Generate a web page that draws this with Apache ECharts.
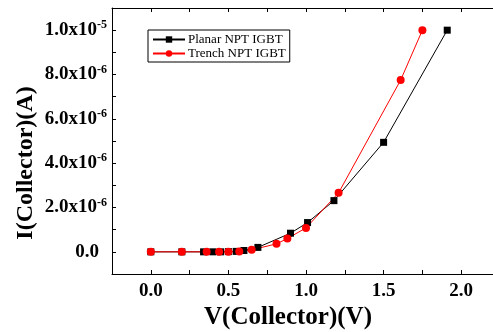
<!DOCTYPE html>
<html>
<head>
<meta charset="utf-8">
<script src="https://cdn.jsdelivr.net/npm/echarts@6/dist/echarts.min.js"></script>
<style>
  html, body { margin: 0; padding: 0; background: #fff; overflow: hidden; }
  #chart { width: 493px; height: 332px; }
</style>
</head>
<body>
<div id="chart"></div>
<script>
// data
const vPlanar = [0, 0.2, 0.34, 0.4, 0.45, 0.5, 0.55, 0.6, 0.69, 0.9, 1.01, 1.18, 1.5, 1.91];
const iPlanar = [0, 0, 0, 0, 0, 0.01e-6, 0.02e-6, 0.06e-6, 0.2e-6, 0.84e-6, 1.32e-6, 2.31e-6, 4.94e-6, 1.0e-5];
const vTrench = [0, 0.2, 0.36, 0.44, 0.5, 0.57, 0.65, 0.81, 0.88, 1.0, 1.21, 1.61, 1.75];
const iTrench = [0, 0, 0, 0, 0, 0.01e-6, 0.09e-6, 0.36e-6, 0.6e-6, 1.08e-6, 2.66e-6, 7.75e-6, 1.0e-5];
const seriesNames = ['Planar NPT IGBT', 'Trench NPT IGBT'];

const font = '"Liberation Serif", "Times New Roman", serif';
const chart = echarts.init(document.getElementById('chart'));

const xRange = { min: -0.25, max: 2.25 };
const yRange = { min: -1e-6, max: 1.1e-5 };

// labels only on the major ticks (0.5 V, 2e-6 A)
function yLabel(v) {
  const k = Math.round(v / 1e-6);
  if (k < 0 || k % 2 !== 0) return '';
  if (k === 0) return '{z|0.0}';
  const exp = k >= 10 ? -5 : -6;
  const mant = k >= 10 ? k / 10 : k;
  return '{m|' + mant.toFixed(1) + 'x10}{e|' + exp + '}';
}

function xLabel(v) {
  const k = Math.round(v / 0.25);
  if (k < 0 || k % 2 !== 0) return '';
  return (k * 0.25).toFixed(1);
}

const lineBlack = { show: true, onZero: false, lineStyle: { color: '#000', width: 1 } };
const tickIn = { show: true, inside: true, length: 4, lineStyle: { color: '#000' } };
const hidden = { show: false };

chart.setOption({
  animation: false,
  grid: { left: 112, top: 8, width: 388, height: 266, outerBoundsMode: 'none' },
  legend: {
    orient: 'vertical',
    left: 148,
    top: 30,
    itemWidth: 32,
    itemHeight: 8,
    itemGap: 1,
    padding: [3, 4, 2, 4],
    borderColor: '#000',
    borderWidth: 1,
    borderRadius: 0,
    textStyle: { fontFamily: font, fontSize: 13, color: '#000', padding: [0, 0, 0, -2] },
    data: seriesNames
  },
  xAxis: [
    {
      type: 'value', ...xRange, interval: 0.25, position: 'bottom',
      axisLine: lineBlack, axisTick: tickIn, splitLine: hidden,
      axisLabel: {
        formatter: xLabel, margin: 8, color: '#000',
        fontFamily: font, fontWeight: 'bold', fontSize: 19
      },
      name: 'V(Collector)(V)', nameLocation: 'middle', nameGap: 31, nameMoveOverlap: false,
      nameTextStyle: { fontFamily: font, fontWeight: 'bold', fontSize: 25, color: '#000', padding: [0, 36, 0, 0] }
    },
    {
      type: 'value', ...xRange, interval: 0.25, position: 'top',
      axisLine: lineBlack, axisTick: tickIn, splitLine: hidden, axisLabel: hidden
    }
  ],
  yAxis: [
    {
      type: 'value', ...yRange, interval: 1e-6, position: 'left',
      axisLine: lineBlack, axisTick: tickIn, splitLine: hidden,
      axisLabel: {
        formatter: yLabel, margin: 5, color: '#000',
        rich: {
          m: { fontFamily: font, fontWeight: 'bold', fontSize: 19, color: '#000', lineHeight: 22 },
          e: { fontFamily: font, fontWeight: 'bold', fontSize: 12, color: '#000', verticalAlign: 'top', lineHeight: 22 },
          z: { fontFamily: font, fontWeight: 'bold', fontSize: 19, color: '#000', padding: [0, 8, 0, 0] }
        }
      },
      name: 'I(Collector)(A)', nameLocation: 'middle', nameGap: 74, nameMoveOverlap: false,
      nameTextStyle: { fontFamily: font, fontWeight: 'bold', fontSize: 24, color: '#000', padding: [0, 44, 0, 0] }
    }
  ],
  series: [
    {
      name: seriesNames[0], type: 'line',
      data: vPlanar.map((v, i) => [v, iPlanar[i]]),
      symbol: 'rect', symbolSize: 7,
      lineStyle: { color: '#000', width: 1 },
      itemStyle: { color: '#000' }
    },
    {
      name: seriesNames[1], type: 'line',
      data: vTrench.map((v, i) => [v, iTrench[i]]),
      symbol: 'circle', symbolSize: 8,
      lineStyle: { color: '#ff0000', width: 1 },
      itemStyle: { color: '#ff0000' }
    }
  ]
});
</script>
</body>
</html>
